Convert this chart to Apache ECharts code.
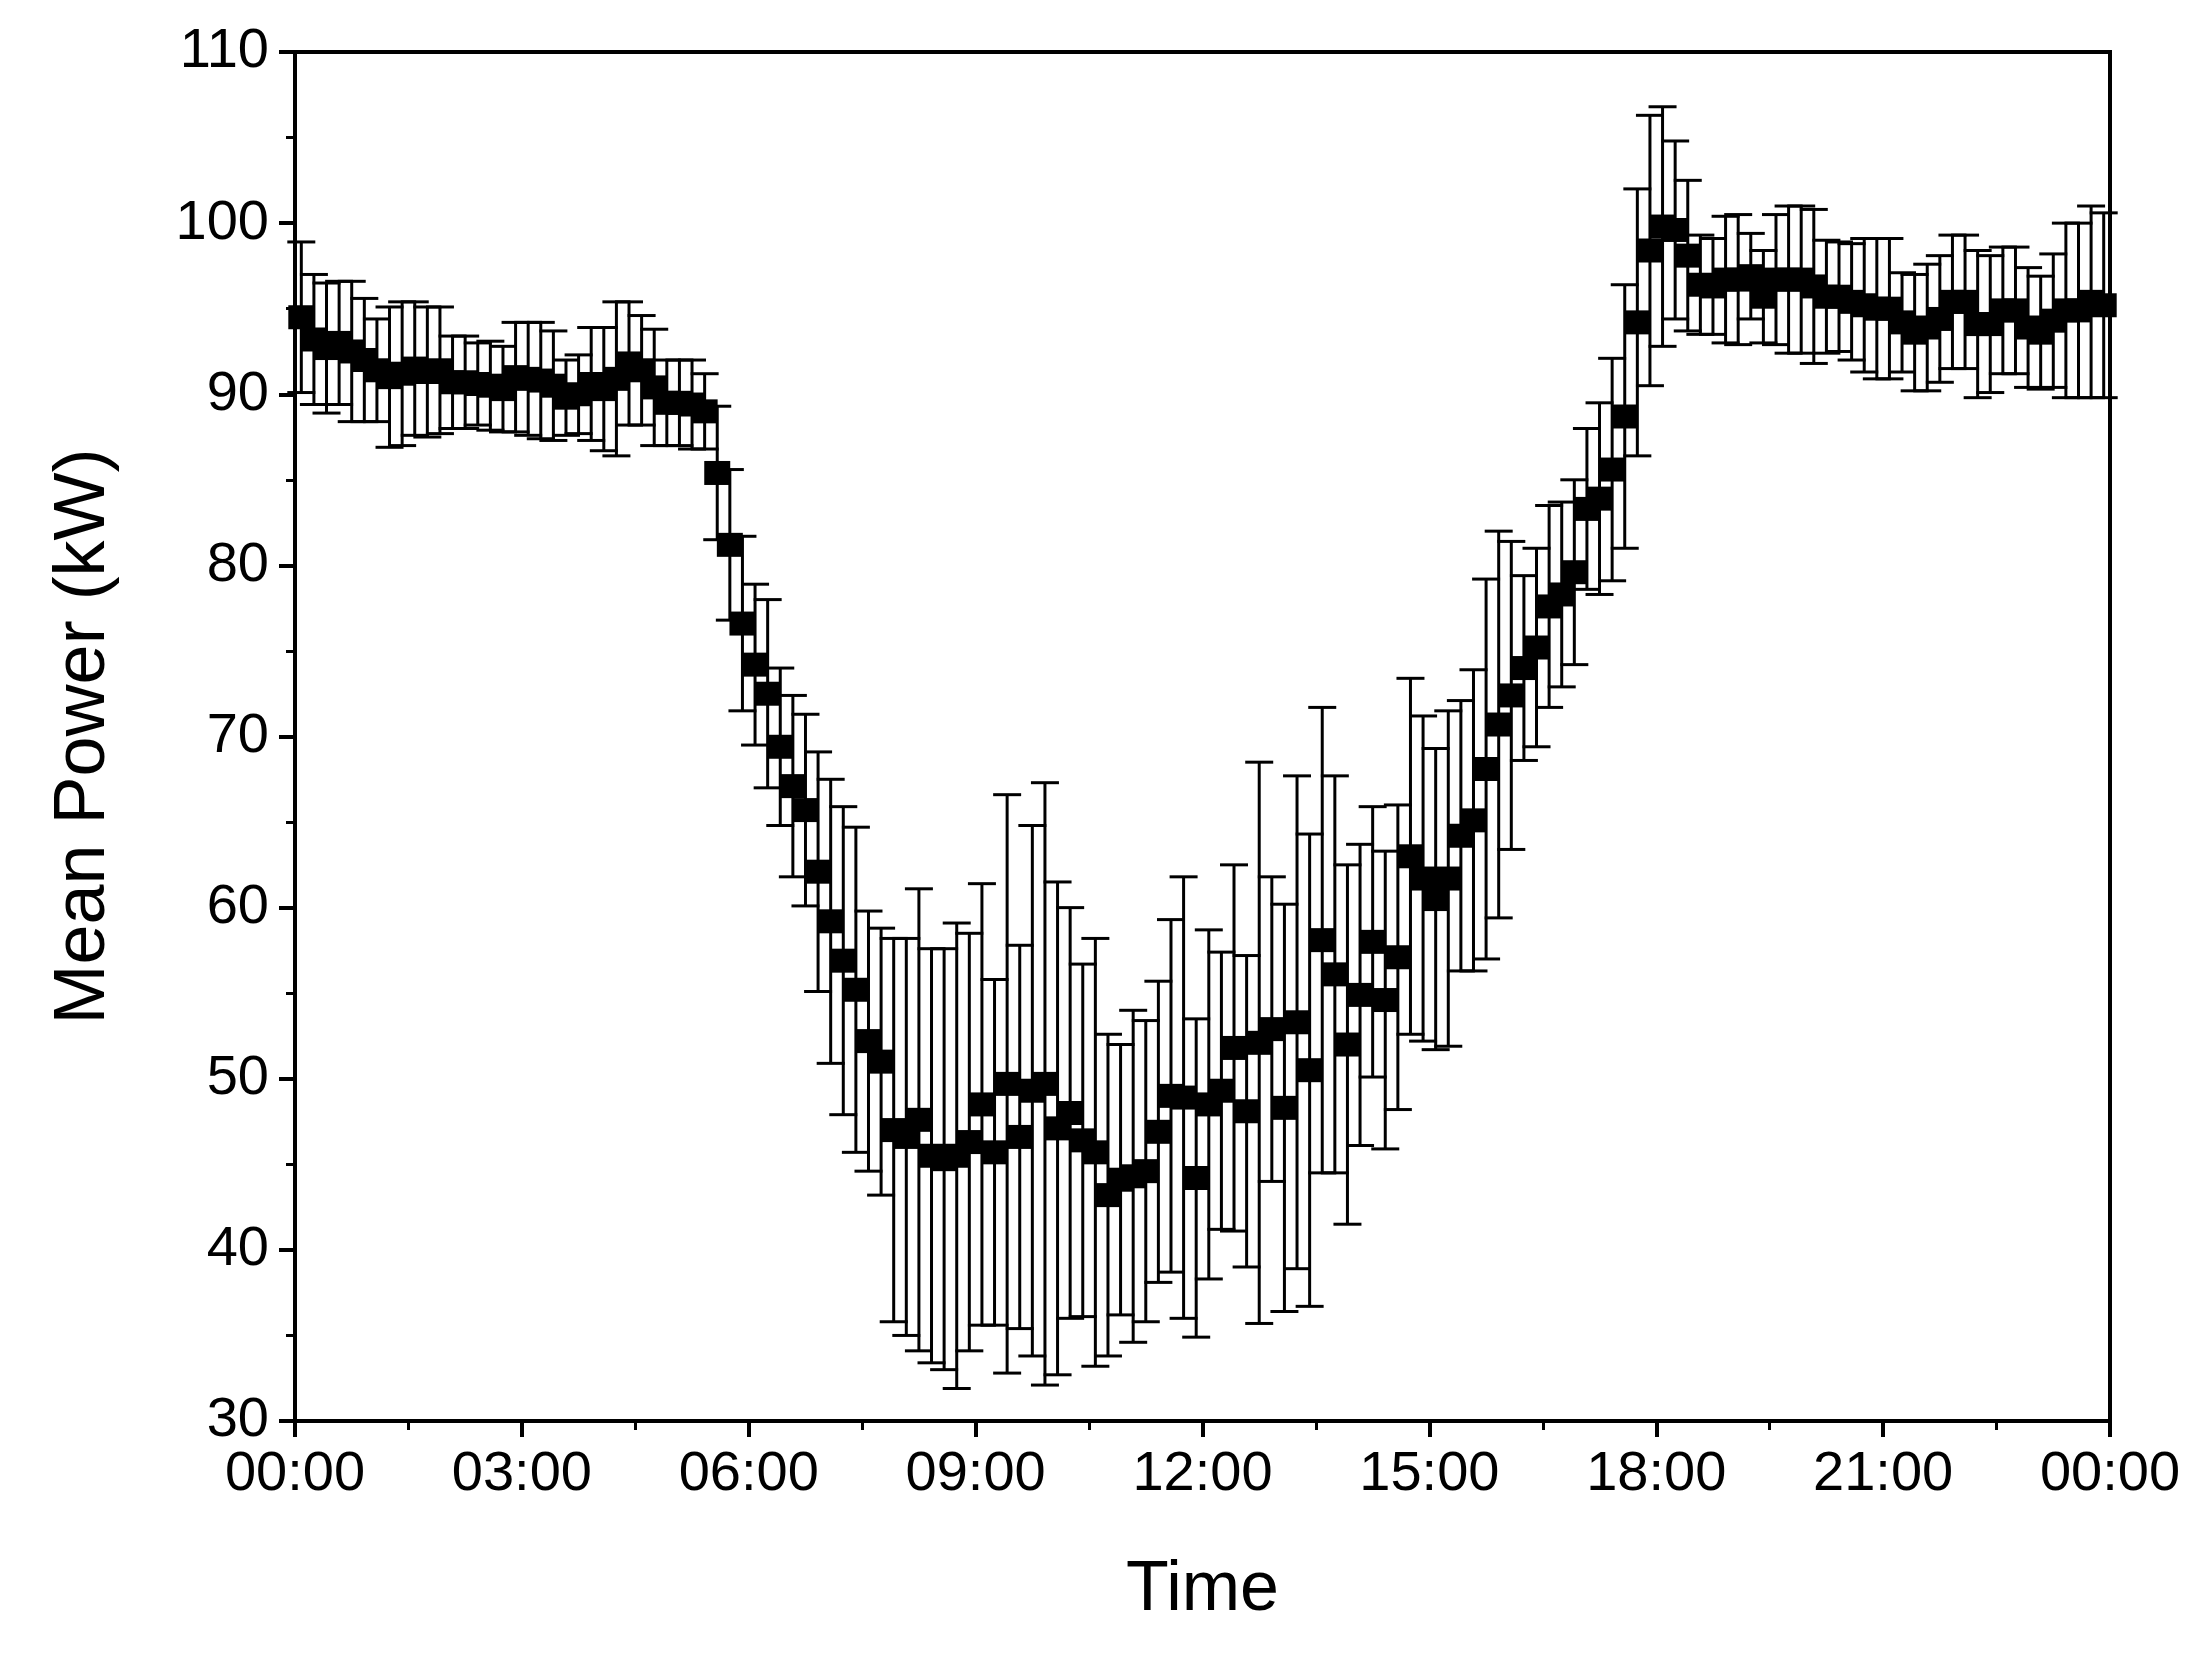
<!DOCTYPE html>
<html>
<head>
<meta charset="utf-8">
<script src="https://cdn.jsdelivr.net/npm/echarts@6/dist/echarts.min.js"></script>
<style>
  html, body { margin: 0; padding: 0; background: #fff; }
  #chart { width: 2210px; height: 1653px; }
</style>
</head>
<body>
<div id="chart"></div>
<script>
// one point every 10 minutes, plotted at the middle of each interval
var meanPower = [
  94.5, 93.2, 92.7, 93.0, 92.5, 92.0, 91.4, 91.0, 91.2, 91.5, 91.3, 91.4,
  90.7, 90.7, 90.6, 90.5, 90.3, 91.0, 90.9, 90.8, 90.5, 89.8, 90.0, 90.6,
  90.3, 90.9, 91.8, 91.4, 90.4, 89.5, 89.5, 89.4, 89.0, 85.4, 81.2, 76.6,
  74.2, 72.5, 69.4, 67.1, 65.7, 62.1, 59.2, 56.9, 55.2, 52.2, 51.0, 47.0,
  46.6, 47.6, 45.5, 45.3, 45.5, 46.3, 48.5, 45.7, 49.7, 46.6, 49.3, 49.7,
  47.1, 48.0, 46.4, 45.7, 43.2, 44.1, 44.3, 44.6, 46.9, 49.0, 48.9, 44.2,
  48.5, 49.3, 51.8, 48.1, 52.1, 52.9, 48.3, 53.3, 50.5, 58.1, 56.1, 52.0,
  54.9, 58.0, 54.6, 57.1, 63.0, 61.7, 60.5, 61.7, 64.2, 65.1, 68.1, 70.7,
  72.4, 74.0, 75.2, 77.6, 78.3, 79.6, 83.3, 83.9, 85.6, 88.7, 94.2, 98.4,
  99.8, 99.6, 98.1, 96.4, 96.3, 96.7, 96.7, 96.9, 95.7, 96.7, 96.7, 96.7,
  96.3, 95.7, 95.7, 95.4, 95.2, 95.0, 95.0, 94.2, 93.6, 93.9, 94.4, 95.4,
  95.4, 94.1, 94.1, 94.9, 94.9, 93.9, 93.6, 94.3, 94.9, 94.9, 95.4, 95.2
];
var stdDev = [
  4.4, 3.8, 3.8, 3.6, 4.1, 3.6, 3.0, 4.1, 4.2, 3.9, 3.8, 3.7,
  2.7, 2.7, 2.4, 2.6, 2.5, 3.2, 3.3, 3.4, 3.2, 2.2, 2.3, 3.3,
  3.6, 4.5, 3.6, 3.2, 3.4, 2.5, 2.5, 2.6, 2.2, 3.9, 4.4, 5.1,
  4.7, 5.5, 4.6, 5.3, 5.6, 7.0, 8.3, 9.0, 9.5, 7.6, 7.8, 11.2,
  11.6, 13.5, 12.1, 12.3, 13.6, 12.2, 12.9, 10.1, 16.9, 11.2, 15.5, 17.6,
  14.4, 12.0, 10.3, 12.5, 9.4, 7.9, 9.7, 8.8, 8.8, 10.3, 12.9, 9.3,
  10.2, 8.1, 10.7, 9.1, 16.4, 8.9, 11.9, 14.4, 13.8, 13.6, 11.6, 10.5,
  8.8, 7.9, 8.7, 8.9, 10.4, 9.5, 8.8, 9.8, 7.9, 8.8, 11.1, 11.3,
  9.0, 5.4, 5.8, 5.9, 5.4, 5.4, 4.7, 5.6, 6.5, 7.7, 7.8, 7.9,
  7.0, 5.2, 4.4, 2.9, 2.8, 3.7, 3.8, 2.5, 2.7, 3.8, 4.3, 4.3,
  4.5, 3.3, 3.2, 3.4, 3.9, 4.1, 4.1, 2.9, 3.4, 3.7, 3.7, 3.9,
  3.9, 4.3, 4.0, 3.7, 3.7, 3.5, 3.3, 3.9, 5.1, 5.1, 5.6, 5.4
];

var pts = [];
var bars = [];
for (var i = 0; i < meanPower.length; i++) {
  var t = (i + 0.5) / 6;
  pts.push([t, meanPower[i]]);
  bars.push([t, meanPower[i] - stdDev[i], meanPower[i] + stdDev[i]]);
}

function fmtHour(v) {
  var h = Math.round(v) % 24;
  return (h < 10 ? '0' : '') + h + ':00';
}

var chart = echarts.init(document.getElementById('chart'));
chart.setOption({
  backgroundColor: '#fff',
  animation: false,
  textStyle: { fontFamily: 'Liberation Sans, Arial, sans-serif', color: '#000' },
  grid: {
    left: 295, right: 100, top: 52, bottom: 232,
    show: true, borderColor: '#000', borderWidth: 4, backgroundColor: 'transparent'
  },
  xAxis: {
    type: 'value', min: 0, max: 24, interval: 3,
    name: 'Time', nameLocation: 'middle', nameGap: 135,
    nameTextStyle: { fontSize: 70, color: '#000' },
    axisLine: { lineStyle: { color: '#000', width: 4 } },
    axisTick: { length: 16, lineStyle: { color: '#000', width: 4 } },
    minorTick: { show: true, splitNumber: 2, length: 9, lineStyle: { color: '#000', width: 3 } },
    axisLabel: { fontSize: 56, color: '#000', margin: 26, formatter: fmtHour },
    splitLine: { show: false }
  },
  yAxis: {
    type: 'value', min: 30, max: 110, interval: 10,
    name: 'Mean Power (kW)', nameLocation: 'middle', nameGap: 175, nameRotate: 90,
    nameTextStyle: { fontSize: 72, color: '#000' },
    axisLine: { lineStyle: { color: '#000', width: 4 } },
    axisTick: { length: 16, lineStyle: { color: '#000', width: 4 } },
    minorTick: { show: true, splitNumber: 2, length: 9, lineStyle: { color: '#000', width: 3 } },
    axisLabel: { fontSize: 56, color: '#000', margin: 26 },
    splitLine: { show: false }
  },
  series: [
    {
      type: 'custom',
      data: bars,
      z: 2,
      renderItem: function (params, api) {
        var x = api.value(0);
        var lo = api.coord([x, api.value(1)]);
        var hi = api.coord([x, api.value(2)]);
        var cap = 14;
        var st = { stroke: '#000', lineWidth: 3 };
        return {
          type: 'group',
          children: [
            { type: 'line', shape: { x1: lo[0], y1: lo[1], x2: hi[0], y2: hi[1] }, style: st },
            { type: 'line', shape: { x1: hi[0] - cap, y1: hi[1], x2: hi[0] + cap, y2: hi[1] }, style: st },
            { type: 'line', shape: { x1: lo[0] - cap, y1: lo[1], x2: lo[0] + cap, y2: lo[1] }, style: st }
          ]
        };
      }
    },
    {
      type: 'scatter',
      data: pts,
      symbol: 'rect',
      symbolSize: [26, 24],
      itemStyle: { color: '#000', opacity: 1 },
      z: 3
    }
  ]
});
</script>
</body>
</html>
